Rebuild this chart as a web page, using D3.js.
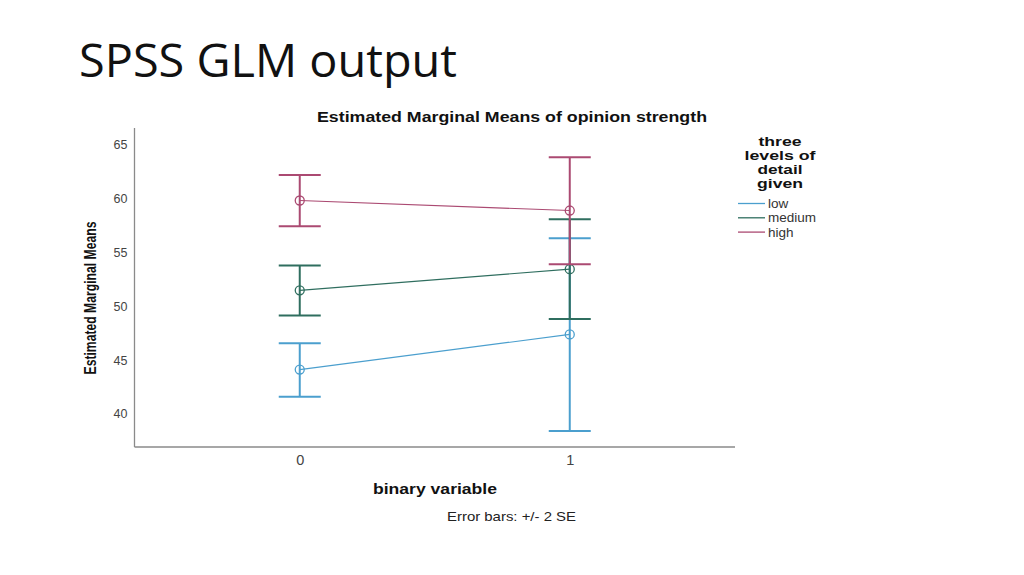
<!DOCTYPE html>
<html><head><meta charset="utf-8">
<script src="https://cdn.jsdelivr.net/npm/d3@7"></script>
<style>html,body{margin:0;padding:0;background:#fff;}svg{display:block;}</style>
</head><body>
<svg id="c" width="1024" height="575"></svg>
<script>
const categories = ["0", "1"];
const seriesNames = ["low", "medium", "high"];
const seriesColors = ["#4b9fce", "#2f6e5f", "#ab4a72"];
const lowMean = [44.13, 47.39];
const lowLower = [41.61, 38.42];
const lowUpper = [46.58, 56.34];
const mediumMean = [51.49, 53.46];
const mediumLower = [49.16, 48.83];
const mediumUpper = [53.79, 58.10];
const highMean = [59.84, 58.91];
const highLower = [57.45, 53.92];
const highUpper = [62.20, 63.86];
const yTicks = [40, 45, 50, 55, 60, 65];

(function () {
const series = [
  {name: seriesNames[0], color: seriesColors[0], mean: lowMean, lo: lowLower, hi: lowUpper},
  {name: seriesNames[1], color: seriesColors[1], mean: mediumMean, lo: mediumLower, hi: mediumUpper},
  {name: seriesNames[2], color: seriesColors[2], mean: highMean, lo: highLower, hi: highUpper}
];
const AR = "'Liberation Sans', Arial, sans-serif";

const svg = d3.select("#c");
const pLeft = 134.5, pRight = 735, pTop = 128, pBottom = 447;

svg.append("text").attr("x", 79).attr("y", 77)
  .attr("font-family", "'Open Sans', 'Noto Sans', sans-serif").attr("font-size", 45)
  .attr("textLength", 378).attr("lengthAdjust", "spacingAndGlyphs")
  .attr("fill", "#111").text("SPSS GLM output");

const x = d3.scalePoint().domain(categories).range([pLeft, pRight]).padding(0.612);
const y = d3.scaleLinear().domain([36.93, 66.58]).range([pBottom, pTop]);

svg.append("line").attr("x1", pLeft).attr("x2", pLeft).attr("y1", pTop).attr("y2", pBottom)
  .attr("stroke", "#8a8a8a").attr("stroke-width", 1.3);
svg.append("line").attr("x1", pLeft).attr("x2", pRight).attr("y1", pBottom).attr("y2", pBottom)
  .attr("stroke", "#8a8a8a").attr("stroke-width", 1.3);

const yAxis = d3.axisLeft(y).tickValues(yTicks).tickSize(0).tickPadding(7);
const gy = svg.append("g").attr("transform", `translate(${pLeft},0)`).call(yAxis);
gy.select(".domain").remove();
gy.selectAll("text").attr("font-family", AR)
  .attr("font-size", 12.5).attr("fill", "#444");

const xAxis = d3.axisBottom(x).tickSize(0).tickPadding(8);
const gx = svg.append("g").attr("transform", `translate(0,${pBottom})`).call(xAxis);
gx.select(".domain").remove();
gx.selectAll("text").attr("font-family", AR)
  .attr("font-size", 14.5).attr("fill", "#444");

svg.append("text").attr("x", 512).attr("y", 122).attr("text-anchor", "middle")
  .attr("font-family", AR).attr("font-weight", "bold")
  .attr("font-size", 15).attr("textLength", 390).attr("lengthAdjust", "spacingAndGlyphs")
  .attr("fill", "#111").text("Estimated Marginal Means of opinion strength");

svg.append("text").attr("transform", "translate(96,298) rotate(-90)").attr("text-anchor", "middle")
  .attr("font-family", "'Liberation Sans Narrow', 'Liberation Sans', Arial, sans-serif")
  .attr("font-weight", "bold").attr("font-size", 16)
  .attr("textLength", 153).attr("lengthAdjust", "spacingAndGlyphs")
  .attr("fill", "#111").text("Estimated Marginal Means");

svg.append("text").attr("x", 435).attr("y", 494).attr("text-anchor", "middle")
  .attr("font-family", AR).attr("font-weight", "bold")
  .attr("font-size", 15).attr("textLength", 124).attr("lengthAdjust", "spacingAndGlyphs")
  .attr("fill", "#111").text("binary variable");

svg.append("text").attr("x", 511.5).attr("y", 521).attr("text-anchor", "middle")
  .attr("font-family", AR)
  .attr("font-size", 13).attr("textLength", 129).attr("lengthAdjust", "spacingAndGlyphs")
  .attr("fill", "#222").text("Error bars: +/- 2 SE");

const line = d3.line().x((d, i) => x(categories[i])).y(d => y(d));

series.forEach(s => {
  const g = svg.append("g");
  g.append("path").datum(s.mean).attr("d", line).attr("fill", "none")
    .attr("stroke", s.color).attr("stroke-width", 1.2);
  categories.forEach((c, i) => {
    const cx = x(c);
    g.append("line").attr("x1", cx).attr("x2", cx).attr("y1", y(s.lo[i])).attr("y2", y(s.hi[i]))
      .attr("stroke", s.color).attr("stroke-width", 2);
    [s.lo[i], s.hi[i]].forEach(v => {
      g.append("line").attr("x1", cx - 21).attr("x2", cx + 21).attr("y1", y(v)).attr("y2", y(v))
        .attr("stroke", s.color).attr("stroke-width", 2);
    });
    g.append("circle").attr("cx", cx).attr("cy", y(s.mean[i])).attr("r", 4.5)
      .attr("fill", "none").attr("stroke", s.color).attr("stroke-width", 1.3);
  });
});

const legTitle = ["three", "levels of", "detail", "given"];
const legTitleLen = [43, 71, 45, 46];
svg.append("g").selectAll("text").data(legTitle).join("text")
  .attr("x", 780).attr("y", (d, i) => 146 + i * 14).attr("text-anchor", "middle")
  .attr("font-family", AR).attr("font-weight", "bold")
  .attr("font-size", 13).attr("textLength", (d, i) => legTitleLen[i])
  .attr("lengthAdjust", "spacingAndGlyphs")
  .attr("fill", "#111").text(d => d);

const leg = svg.append("g").selectAll("g").data(series).join("g")
  .attr("transform", (d, i) => `translate(738,${203.5 + i * 14.3})`);
leg.append("line").attr("x1", 0).attr("x2", 27).attr("y1", 0).attr("y2", 0)
  .attr("stroke", d => d.color).attr("stroke-width", 1.3);
leg.append("text").attr("x", 30).attr("y", 4.5)
  .attr("font-family", AR)
  .attr("font-size", 13.5).attr("fill", "#333").text(d => d.name);
})();
</script>
</body></html>
